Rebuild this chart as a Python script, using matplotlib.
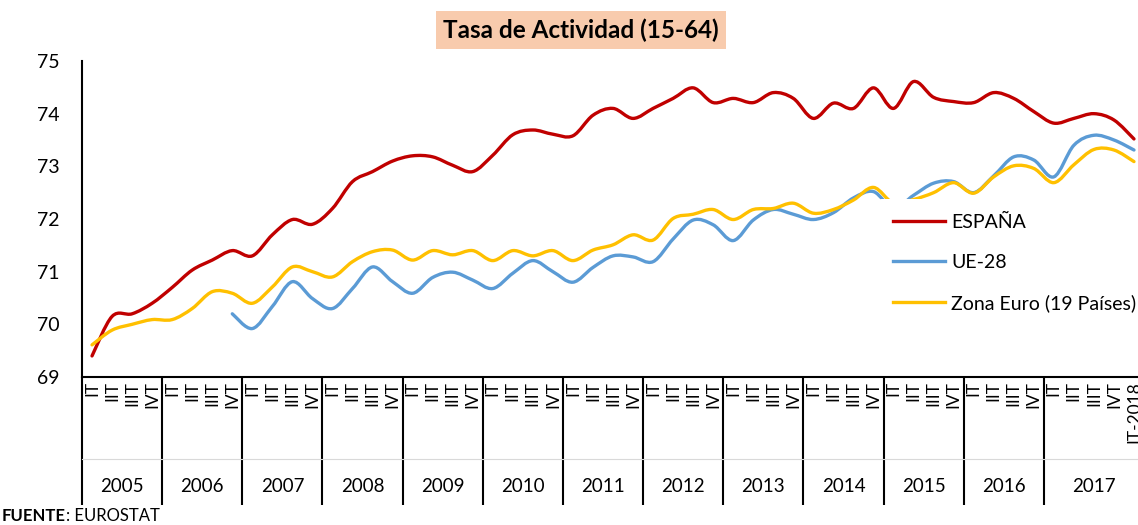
import matplotlib
matplotlib.use("Agg")
import matplotlib.pyplot as plt
import numpy as np
from matplotlib.path import Path
from matplotlib.patches import PathPatch
from matplotlib.lines import Line2D
import matplotlib.transforms as mtransforms

plt.rcParams['font.family'] = ['Lato', 'DejaVu Sans']

# data: quarterly activity rate 2005 IT .. 2018 IT
years = ["2005", "2006", "2007", "2008", "2009", "2010", "2011",
         "2012", "2013", "2014", "2015", "2016", "2017"]
quarters = ["IT", "IIT", "IIIT", "IVT"]
tick_labels = quarters * 13 + ["IT-2018"]

espana = [69.4, 70.15, 70.2, 70.4, 70.7, 71.03, 71.22, 71.4, 71.3, 71.7,
          71.99, 71.9, 72.2, 72.71, 72.9, 73.1, 73.2, 73.18, 73.02, 72.9,
          73.21, 73.6, 73.69, 73.61, 73.58, 73.97, 74.1, 73.91, 74.1, 74.29,
          74.49, 74.21, 74.29, 74.21, 74.4, 74.29, 73.91, 74.2, 74.1, 74.49,
          74.1, 74.61, 74.31, 74.23, 74.21, 74.4, 74.29, 74.04, 73.82, 73.91,
          74.0, 73.88, 73.52]
# UE-28 starts at 2006 IVT
ue28_start = 7
ue28 = [70.2, 69.92, 70.34, 70.81, 70.49, 70.3, 70.68, 71.09, 70.81, 70.59,
        70.89, 70.99, 70.84, 70.68, 70.97, 71.21, 71.0, 70.8, 71.08, 71.3,
        71.28, 71.19, 71.62, 71.98, 71.89, 71.59, 71.98, 72.18, 72.09, 71.99,
        72.12, 72.4, 72.52, 72.2, 72.45, 72.68, 72.71, 72.5, 72.82, 73.18,
        73.12, 72.8, 73.4, 73.59, 73.5, 73.31]
zona_euro = [69.61, 69.89, 70.0, 70.09, 70.09, 70.3, 70.62, 70.59, 70.4, 70.71,
             71.09, 71.0, 70.9, 71.19, 71.38, 71.41, 71.22, 71.4, 71.32, 71.4,
             71.21, 71.4, 71.3, 71.4, 71.21, 71.41, 71.51, 71.7, 71.6, 72.01,
             72.09, 72.18, 71.99, 72.18, 72.2, 72.3, 72.11, 72.18, 72.36, 72.6,
             72.3, 72.37, 72.5, 72.69, 72.49, 72.8, 73.01, 72.96, 72.69, 73.03,
             73.32, 73.31, 73.09]


def smooth_path(x, y):
    # cubic bezier through the points (Excel-like smoothed line)
    pts = np.column_stack([x, y])
    n = len(pts)
    verts = [pts[0]]
    codes = [Path.MOVETO]
    for i in range(n - 1):
        p0 = pts[i - 1] if i > 0 else pts[i]
        p1 = pts[i]
        p2 = pts[i + 1]
        p3 = pts[i + 2] if i + 2 < n else pts[i + 1]
        c1 = p1 + (p2 - p0) / 6.0
        c2 = p2 - (p3 - p1) / 6.0
        verts += [c1, c2, p2]
        codes += [Path.CURVE4] * 3
    return Path(verts, codes)


fig = plt.figure(figsize=(11.38, 5.25), dpi=100)
ax = fig.add_axes([82 / 1138, 1 - 377 / 525, 1062 / 1138, 316 / 525])

series = [
    ("ESPAÑA", np.arange(len(espana)), espana, "#C00000"),
    ("UE-28", np.arange(ue28_start, ue28_start + len(ue28)), ue28, "#5B9BD5"),
    ("Zona Euro (19 Países)", np.arange(len(zona_euro)), zona_euro, "#FFC000"),
]
handles = []
for name, xs, ys, col in series:
    ax.add_patch(PathPatch(smooth_path(xs, ys), fill=False, edgecolor=col,
                           lw=2.4, capstyle='round', joinstyle='round'))
    handles.append(Line2D([], [], color=col, lw=2.4, label=name))

ax.set_xlim(-0.5, len(tick_labels) - 0.5)
ax.set_ylim(69, 75)
ax.set_yticks(range(69, 76))
ax.tick_params(axis='y', length=0, labelsize=14, pad=16)

for s in ["top", "right"]:
    ax.spines[s].set_visible(False)
ax.spines["left"].set_linewidth(1.5)
ax.spines["bottom"].set_linewidth(1.5)

# quarter labels
ax.set_xticks(np.arange(len(tick_labels)))
ax.set_xticklabels(tick_labels, rotation=90, fontsize=12.5, va='top', ha='center')
ax.tick_params(axis='x', which='major', length=0, pad=3)
# year separators
ax.set_xticks(np.arange(-0.5, 48, 4), minor=True)
ax.tick_params(axis='x', which='minor', length=92, width=1.5, direction='out')

trans = mtransforms.blended_transform_factory(ax.transData, ax.transAxes)
ax.plot([0, 1], [-0.259, -0.259], transform=ax.transAxes, color="#D9D9D9",
        lw=0.8, clip_on=False)
for i, yr in enumerate(years):
    end = 4 * i + 3.5 if i < len(years) - 1 else len(tick_labels) - 0.5
    ax.text((4 * i - 0.5 + end) / 2, -0.348, yr, transform=trans,
            ha='center', va='center', fontsize=13.5)

leg = fig.legend(handles=handles, loc='upper left',
                 bbox_to_anchor=(878 / 1138, 1 - 199 / 525), frameon=True,
                 fontsize=14, handlelength=2.7, labelspacing=1.2,
                 borderaxespad=0, borderpad=0.75, handletextpad=0.3)
leg.get_frame().set_facecolor("white")
leg.get_frame().set_edgecolor("none")
leg.get_frame().set_alpha(1)

fig.text(581 / 1138, 1 - 30 / 525, "Tasa de Actividad (15-64)", ha='center',
         va='center', fontsize=17.5, fontweight='bold',
         bbox=dict(boxstyle='square,pad=0.3', facecolor="#F8CBAD", edgecolor='none'))

src = fig.text(2 / 1138, 1 - 516 / 525, "FUENTE", ha='left', va='center',
               fontsize=12, fontweight='bold')
ax.annotate(": EUROSTAT", xy=(1, 0.5), xycoords=src, va='center', ha='left',
            fontsize=12, annotation_clip=False)

fig.savefig("out.png", dpi=100)
